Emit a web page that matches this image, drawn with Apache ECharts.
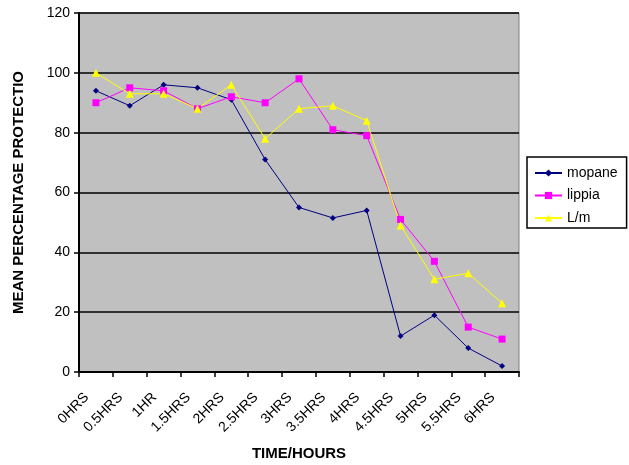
<!DOCTYPE html>
<html><head><meta charset="utf-8">
<script src="https://cdn.jsdelivr.net/npm/echarts@6/dist/echarts.min.js"></script>
<style>html,body{margin:0;padding:0;background:#fff}#c{width:629px;height:465px}</style>
</head><body><div id="c"></div>
<script>
const categories = ['0HRS','0.5HRS','1HR','1.5HRS','2HRS','2.5HRS','3HRS','3.5HRS','4HRS','4.5HRS','5HRS','5.5HRS','6HRS'];
const mopane = [94, 89, 96, 95, 91, 71, 55, 51.5, 54, 12, 19, 8, 2];
const lippia = [90, 95, 94, 88, 92, 90, 98, 81, 79, 51, 37, 15, 11];
const lm = [100, 93, 93, 88, 96, 78, 88, 89, 84, 49, 31, 33, 23];
const yTicks = [0, 20, 40, 60, 80, 100, 120];

const font = 'Liberation Sans, Arial, sans-serif';
const chart = echarts.init(document.getElementById('c'), null, {renderer: 'canvas'});
function s(name, data, color, symbol, size) {
  return {name, type: 'line', data, symbol, symbolSize: size,
    lineStyle: {color, width: 1}, itemStyle: {color}, animation: false};
}
chart.setOption({
  animation: false,
  textStyle: {fontFamily: font},
  grid: {left: 79, right: 110, top: 13, bottom: 93, show: true, containLabel: false,
    outerBoundsMode: 'none',
    backgroundColor: '#C0C0C0', borderColor: '#808080', borderWidth: 1},
  xAxis: {type: 'category', data: categories, boundaryGap: true,
    name: 'TIME/HOURS', nameLocation: 'middle', nameGap: 74,
    nameTextStyle: {fontFamily: font, fontWeight: 'bold', fontSize: 15, color: '#000'},
    axisLine: {lineStyle: {color: '#000', width: 2}},
    axisTick: {show: true, length: 5, lineStyle: {color: '#000', width: 1.5}, alignWithLabel: false},
    axisLabel: {rotate: 45, fontSize: 14, color: '#000', fontFamily: font, margin: 14,
      padding: [0, 13, 0, 0], interval: 0}},
  yAxis: {type: 'value', min: 0, max: 120, interval: 20,
    name: 'MEAN PERCENTAGE PROTECTIO', nameLocation: 'middle', nameGap: 53,
    nameTextStyle: {fontFamily: font, fontWeight: 'bold', fontSize: 15, color: '#000'},
    axisLine: {show: true, lineStyle: {color: '#000', width: 2}},
    axisTick: {show: true, length: 5, lineStyle: {color: '#000', width: 1.5}},
    axisLabel: {fontSize: 14, color: '#000', fontFamily: font, margin: 9,
      formatter: v => yTicks.includes(v) ? String(v) : ''},
    splitLine: {lineStyle: {color: '#000', width: 1.5}}},
  legend: {orient: 'vertical', left: 527, top: 157,
    data: ['mopane', 'lippia', 'L/m'],
    borderColor: '#000', borderWidth: 1.5, padding: [9, 9, 3, 7], itemGap: 8.5,
    itemWidth: 27, itemHeight: 9,
    textStyle: {fontSize: 14, color: '#000', fontFamily: font}},
  series: [
    s('mopane', mopane, '#000080', 'diamond', 6),
    s('lippia', lippia, '#FF00FF', 'rect', 7),
    s('L/m', lm, '#FFFF00', 'triangle', 8)
  ]
});
</script></body></html>
